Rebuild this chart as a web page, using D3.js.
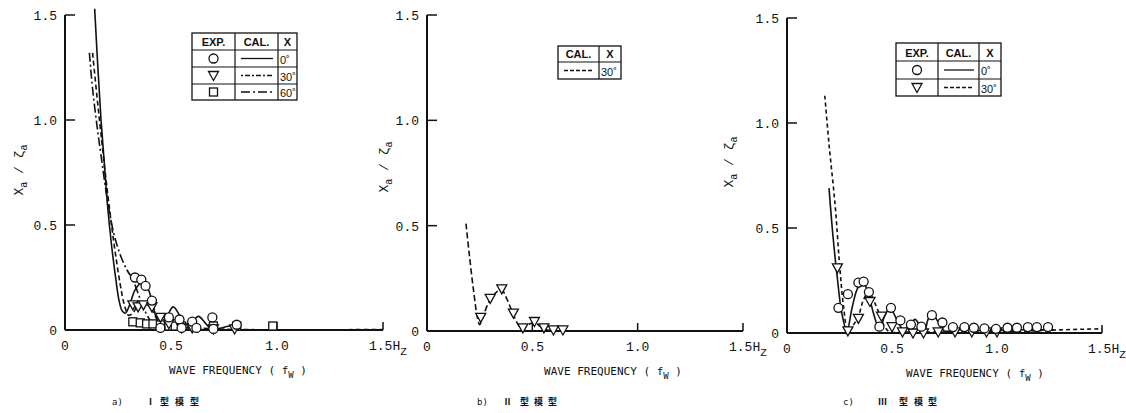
<!DOCTYPE html>
<html>
<head>
<meta charset="utf-8">
<script src="https://cdn.jsdelivr.net/npm/d3@7"></script>
<style>
  body { margin: 0; background: #fff; }
  svg text { fill: #111; }
  .tick-label { font-family: "Liberation Mono", "DejaVu Sans Mono", monospace; font-size: 13px; }
  .title { font-family: "DejaVu Sans Mono", monospace; font-size: 11px; }
  .leg { font-family: "Liberation Sans", Arial, sans-serif; font-size: 11px; }
  .cap { font-family: "DejaVu Sans Mono", "Noto Sans CJK JP", monospace; font-size: 9px; }
</style>
</head>
<body>
<div id="chart"></div>
<script>
// frequency response X_a / zeta_a, three hull models

var yTicks = [0, 0.5, 1.0, 1.5],
    yTickLabels = ["0", "0.5", "1.0", "1.5"],
    xTicks = [0, 0.5, 1.0, 1.5],
    xTickLabels = ["0", "0.5", "1.0", "1.5"];

// caption pieces: label, model numeral, then the three characters
var captions = [["a)", "\u2160", "型", "模", "型"],
                ["b)", "\u2161", "型", "模", "型"],
                ["c)", "\u2162", "型", "模", "型"]];

// --- a) I model ---
var aCal0 = [[0.14,1.53],[0.155,1.25],[0.17,1.0],[0.185,0.8],[0.2,0.6],[0.22,0.4],[0.24,0.24],[0.255,0.14],[0.27,0.09],[0.285,0.08],[0.305,0.12],[0.33,0.19],[0.36,0.225],[0.385,0.21],[0.41,0.14],[0.43,0.06],[0.45,0.015],[0.475,0.05],[0.51,0.11],[0.54,0.07],[0.57,0.01],[0.6,0.04],[0.63,0.065],[0.66,0.035],[0.69,0.005],[0.73,0.008],[0.77,0.018],[0.8,0.02],[0.83,0.005]];
var aCal30 = [[0.13,1.32],[0.15,1.12],[0.17,0.93],[0.2,0.66],[0.23,0.42],[0.26,0.22],[0.28,0.12],[0.3,0.07],[0.32,0.08],[0.345,0.12],[0.37,0.13],[0.4,0.11],[0.43,0.06],[0.46,0.015],[0.49,0.025],[0.52,0.01],[0.56,0.005],[0.65,0.008],[0.75,0.003],[1.5,0.002]];
var aCal60 = [[0.115,1.32],[0.13,1.15],[0.15,0.98],[0.17,0.83],[0.2,0.62],[0.23,0.46],[0.26,0.36],[0.29,0.29],[0.32,0.24],[0.35,0.16],[0.38,0.085],[0.41,0.035],[0.45,0.01],[0.5,0.003],[0.7,0.002],[1.0,0.0]];
var aExp0 = [[0.33,0.25],[0.36,0.24],[0.38,0.21],[0.41,0.14],[0.49,0.06],[0.54,0.05],[0.6,0.04],[0.695,0.06],[0.81,0.025],[0.45,0.01],[0.55,0.01],[0.62,0.01],[0.7,0.005]];
var aExp30 = [[0.32,0.12],[0.345,0.11],[0.37,0.12],[0.41,0.11],[0.45,0.06],[0.49,0.03],[0.55,0.01],[0.6,0.01],[0.7,0.005],[0.8,0.005]];
var aExp60 = [[0.32,0.02],[0.355,0.015],[0.385,0.01],[0.415,0.01],[0.45,0.005],[0.49,0.0],[0.52,0.0],[0.55,0.0],[0.6,0.0],[0.7,0.0],[0.81,0.0],[0.98,0.0]];

// --- b) II model ---
var bCal30 = [[0.185,0.51],[0.2,0.37],[0.22,0.2],[0.24,0.06],[0.25,0.03],[0.27,0.08],[0.3,0.15],[0.33,0.185],[0.355,0.195],[0.38,0.15],[0.405,0.09],[0.43,0.035],[0.45,0.01],[0.48,0.03],[0.51,0.04],[0.54,0.02],[0.57,0.005],[0.6,0.003]];
var bExp30 = [[0.255,0.065],[0.3,0.155],[0.355,0.2],[0.41,0.085],[0.455,0.015],[0.51,0.045],[0.555,0.015],[0.6,0.005],[0.645,0.005]];

// --- c) III model ---
var cCal0 = [[0.2,0.69],[0.22,0.45],[0.24,0.26],[0.26,0.1],[0.285,0.01],[0.31,0.12],[0.335,0.21],[0.36,0.24],[0.385,0.2],[0.41,0.1],[0.44,0.02],[0.465,0.08],[0.49,0.12],[0.52,0.07],[0.555,0.015],[0.585,0.04],[0.61,0.065],[0.635,0.03],[0.655,0.01],[0.67,0.06],[0.69,0.1],[0.715,0.06],[0.75,0.01],[0.8,0.015],[0.9,0.012],[1.0,0.012],[1.1,0.015],[1.2,0.015],[1.27,0.015]];
var cCal30 = [[0.18,1.13],[0.2,0.9],[0.23,0.6],[0.25,0.33],[0.27,0.12],[0.29,0.01],[0.31,0.03],[0.34,0.08],[0.365,0.16],[0.39,0.195],[0.415,0.15],[0.44,0.09],[0.465,0.03],[0.49,0.005],[0.55,0.005],[0.7,0.005],[0.9,0.005],[1.1,0.008],[1.3,0.015],[1.5,0.02]];
var cExp0 = [[0.245,0.12],[0.29,0.185],[0.34,0.24],[0.365,0.245],[0.39,0.195],[0.44,0.03],[0.495,0.12],[0.54,0.06],[0.59,0.04],[0.64,0.03],[0.69,0.085],[0.74,0.05],[0.79,0.028],[0.845,0.028],[0.89,0.025],[0.94,0.022],[0.995,0.02],[1.05,0.025],[1.095,0.025],[1.147,0.028],[1.19,0.028],[1.243,0.028]];
var cExp30 = [[0.24,0.31],[0.29,0.01],[0.34,0.07],[0.395,0.15],[0.45,0.08],[0.5,0.03],[0.55,0.005],[0.6,0.0],[0.65,0.0],[0.72,0.005],[0.8,0.005],[0.88,0.005],[0.95,0.005],[1.0,0.005]];

var svg = d3.select("#chart").append("svg")
    .attr("width", 1126)
    .attr("height", 413);

var panels = [
  { x0: 65, x1: 383, y0: 330, y1: 15, ytx: 18, yty: 170, titleX: 238, capX: 112, capGap: [34, 48, 63, 78],
    cal: [{d: aCal0, dash: null}, {d: aCal30, dash: "5,3"}, {d: aCal60, dash: "9,3,2,3"}],
    exp: [{d: aExp60, m: "square"}, {d: aExp30, m: "tri"}, {d: aExp0, m: "circle"}],
    legend: { x: 192, y: 33, cols: [43, 43, 19], rows: [17, 17, 17, 16],
              items: [["circle", null, "0\u02da"], ["tri", "2,2,5,2", "30\u02da"], ["square", "9,3,2,3", "60\u02da"]], exp: true } },
  { x0: 427, x1: 743, y0: 331, y1: 15, ytx: 383, yty: 167, titleX: 613, capX: 477, capGap: [26, 43, 57, 71],
    cal: [{d: bCal30, dash: "6,3"}],
    exp: [{d: bExp30, m: "tri"}],
    legend: { x: 558, y: 46, cols: [41, 22], rows: [16, 17],
              items: [[null, "4,2", "30\u02da"]], exp: false } },
  { x0: 787, x1: 1102, y0: 333, y1: 18, ytx: 728, yty: 162, titleX: 975, capX: 843, capGap: [35, 56, 71, 85],
    cal: [{d: cCal0, dash: null}, {d: cCal30, dash: "4,3"}],
    exp: [{d: cExp30, m: "tri"}, {d: cExp0, m: "circle"}],
    legend: { x: 896, y: 43, cols: [42, 41, 22], rows: [18, 18, 17],
              items: [["circle", null, "0\u02da"], ["tri", "4,2", "30\u02da"]], exp: true } }
];

function drawMarker(g, type, cx, cy) {
  if (type == "circle") {
    g.append("circle").attr("cx", cx).attr("cy", cy).attr("r", 4.5)
      .attr("fill", "#fff").attr("stroke", "#111").attr("stroke-width", 1.3);
  } else if (type == "tri") {
    g.append("path")
      .attr("d", "M" + (cx - 5) + "," + (cy - 4) + "L" + (cx + 5) + "," + (cy - 4) + "L" + cx + "," + (cy + 5) + "Z")
      .attr("fill", "#fff").attr("stroke", "#111").attr("stroke-width", 1.3);
  } else if (type == "square") {
    g.append("rect").attr("x", cx - 4).attr("y", cy - 4).attr("width", 8).attr("height", 8)
      .attr("fill", "#fff").attr("stroke", "#111").attr("stroke-width", 1.3);
  }
}

panels.forEach(function(p, i) {
  var x = d3.scaleLinear().domain([0, 1.5]).range([p.x0, p.x1]);
  var y = d3.scaleLinear().domain([0, 1.5]).range([p.y0, p.y1]);
  var g = svg.append("g");

  // axes
  g.append("line").attr("x1", x(0)).attr("x2", x(0)).attr("y1", y(0)).attr("y2", y(1.5))
    .attr("stroke", "#111").attr("stroke-width", 2);
  g.append("line").attr("x1", x(0)).attr("x2", x(1.5)).attr("y1", y(0)).attr("y2", y(0))
    .attr("stroke", "#111").attr("stroke-width", 2);
  yTicks.slice(1).forEach(function(t) {
    g.append("line").attr("x1", x(0)).attr("x2", x(0) + 10).attr("y1", y(t)).attr("y2", y(t))
      .attr("stroke", "#111").attr("stroke-width", 1.5);
  });
  xTicks.slice(1).forEach(function(t) {
    g.append("line").attr("x1", x(t)).attr("x2", x(t)).attr("y1", y(0)).attr("y2", y(0) - 8)
      .attr("stroke", "#111").attr("stroke-width", 1.5);
  });
  yTicks.forEach(function(t, j) {
    g.append("text").attr("class", "tick-label")
      .attr("x", x(0) - 8).attr("y", y(t) + 5)
      .attr("text-anchor", "end")
      .text(yTickLabels[j]);
  });
  xTicks.forEach(function(t, j) {
    var tx = g.append("text").attr("class", "tick-label")
      .attr("x", x(t)).attr("y", y(0) + 20)
      .attr("text-anchor", j == 3 ? "start" : "middle");
    if (j == 3) {
      tx.attr("x", x(t) - 14);
      tx.append("tspan").text(xTickLabels[j] + "H");
      tx.append("tspan").attr("dy", 5).attr("font-size", 11).text("Z");
    } else {
      tx.text(xTickLabels[j]);
    }
  });

  // axis titles
  var xt = g.append("text").attr("class", "title")
    .attr("x", p.titleX).attr("y", y(0) + 44).attr("text-anchor", "middle");
  xt.append("tspan").text("WAVE  FREQUENCY ( f");
  xt.append("tspan").attr("dy", 4).attr("font-size", 9).text("W");
  xt.append("tspan").attr("dy", -4).text(" )");

  var yt = g.append("text").attr("class", "tick-label")
    .attr("transform", "translate(" + (p.ytx + 5) + "," + p.yty + ") rotate(-90)")
    .attr("text-anchor", "middle");
  yt.append("tspan").text("X");
  yt.append("tspan").attr("dy", 4).attr("font-size", 10).text("a");
  yt.append("tspan").attr("dy", -4).text(" / \u03b6");
  yt.append("tspan").attr("dy", 4).attr("font-size", 10).text("a");

  // caption under panel
  var cap = captions[i];
  g.append("text").attr("class", "cap").attr("x", p.capX).attr("y", 405).text(cap[0]);
  cap.slice(1).forEach(function(c, k) {
    g.append("text").attr("class", "cap")
      .attr("x", p.capX + p.capGap[k]).attr("y", 405)
      .attr("font-weight", "bold")
      .text(c);
  });

  // calculated curves
  var line = d3.line()
    .x(function(d) { return x(d[0]); })
    .y(function(d) { return y(d[1]); })
    .curve(d3.curveCatmullRom.alpha(0.5));
  p.cal.forEach(function(c) {
    g.append("path").datum(c.d)
      .attr("d", line)
      .attr("fill", "none")
      .attr("stroke", "#111")
      .attr("stroke-width", 1.6)
      .attr("stroke-dasharray", c.dash);
  });

  // experiment points
  p.exp.forEach(function(e) {
    e.d.forEach(function(d) {
      drawMarker(g, e.m, x(d[0]), y(d[1]) - (e.m == "square" ? 4 : 0));
    });
  });

  // legend table
  var L = p.legend;
  var lw = d3.sum(L.cols), lh = d3.sum(L.rows);
  var lg = g.append("g").attr("transform", "translate(" + L.x + "," + L.y + ")");
  lg.append("rect").attr("width", lw).attr("height", lh)
    .attr("fill", "#fff").attr("stroke", "#111").attr("stroke-width", 1.3);
  var cx = 0;
  L.cols.slice(0, -1).forEach(function(c) {
    cx += c;
    lg.append("line").attr("x1", cx).attr("x2", cx).attr("y1", 0).attr("y2", lh)
      .attr("stroke", "#111").attr("stroke-width", 1.2);
  });
  var ry = 0;
  L.rows.slice(0, -1).forEach(function(r) {
    ry += r;
    lg.append("line").attr("x1", 0).attr("x2", lw).attr("y1", ry).attr("y2", ry)
      .attr("stroke", "#111").attr("stroke-width", 1.2);
  });
  var colStart = [0], acc = 0;
  L.cols.forEach(function(c) { acc += c; colStart.push(acc); });
  var heads = L.exp ? ["EXP.", "CAL.", "X"] : ["CAL.", "X"];
  heads.forEach(function(h, k) {
    lg.append("text").attr("class", "leg")
      .attr("x", (colStart[k] + colStart[k + 1]) / 2).attr("y", L.rows[0] - 4)
      .attr("text-anchor", "middle").attr("font-weight", "bold")
      .text(h);
  });
  var rowTop = L.rows[0];
  L.items.forEach(function(it, k) {
    var rh = L.rows[k + 1];
    var my = rowTop + rh / 2;
    var off = L.exp ? 1 : 0;
    if (L.exp) drawMarker(lg, it[0], L.cols[0] / 2, my);
    lg.append("line")
      .attr("x1", colStart[off] + 6).attr("x2", colStart[off + 1] - 5)
      .attr("y1", my).attr("y2", my)
      .attr("stroke", "#111").attr("stroke-width", 1.3)
      .attr("stroke-dasharray", it[1]);
    lg.append("text").attr("class", "leg")
      .attr("x", colStart[off + 1] + 2).attr("y", my + 5)
      .attr("font-size", 13)
      .text(it[2]);
    rowTop += rh;
  });
});
</script>
</body>
</html>
